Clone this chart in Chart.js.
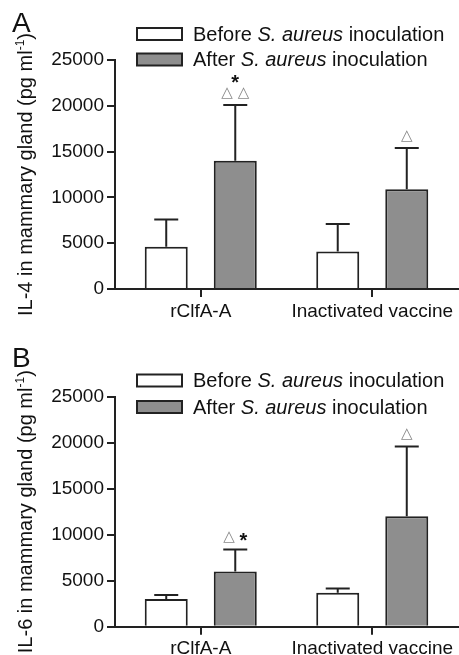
<!DOCTYPE html>
<html lang="en">
<head>
<meta charset="UTF-8">
<title>IL-4 / IL-6 in mammary gland</title>
<script src="https://cdn.jsdelivr.net/npm/chart.js"></script>
<style>
    body { margin: 0; background: #fff; }
    .panel { position: absolute; left: 0; width: 459px; overflow: hidden; }
    #wrapA { top: 0; height: 330px; }
    #wrapB { top: 330px; height: 325px; }
</style>
</head>
<body>
<div class="panel" id="wrapA"><canvas id="chartA" width="459" height="330"></canvas></div>
<div class="panel" id="wrapB"><canvas id="chartB" width="459" height="340"></canvas></div>

<script>
// categories and series
const categories = ['rClfA-A', 'Inactivated vaccine'];
const seriesNames = ['Before', 'After'];
const yTicks = [0, 5000, 10000, 15000, 20000, 25000];

// IL-4 (panel A)
const il4Before = [4600, 4100];
const il4BeforeErr = [7600, 7100];
const il4After = [14000, 10900];
const il4AfterErr = [20100, 15400];
const il4Marks = [['*', '\u25B3 \u25B3'], ['\u25B3']];

// IL-6 (panel B)
const il6Before = [3000, 3700];
const il6BeforeErr = [3450, 4150];
const il6After = [6000, 12000];
const il6AfterErr = [8400, 19600];
const il6Marks = [['\u25B3 *'], ['\u25B3']];

const ink = '#222';
const FONT = '"Liberation Sans", Arial, sans-serif';

function drawMixed(ctx, parts, x, y, size) {
    parts.forEach(p => {
        ctx.font = (p.it ? 'italic ' : '') + size + 'px ' + FONT;
        ctx.fillText(p.t, x, y);
        x += ctx.measureText(p.t).width;
    });
}

const extras = {
    id: 'extras',
    afterDatasetsDraw(chart, args, o) {
        const ctx = chart.ctx;
        const y = chart.scales.y;
        ctx.save();
        ctx.strokeStyle = ink;
        ctx.lineWidth = 2;
        // error bars (upper only)
        chart.data.datasets.forEach((ds, di) => {
            chart.getDatasetMeta(di).data.forEach((bar, i) => {
                const top = y.getPixelForValue(ds.err[i]);
                ctx.beginPath();
                ctx.moveTo(bar.x, bar.y);
                ctx.lineTo(bar.x, top);
                ctx.moveTo(bar.x - 12, top);
                ctx.lineTo(bar.x + 12, top);
                ctx.stroke();
            });
        });
        // significance marks above the "after" bars
        const after = chart.data.datasets[1];
        chart.getDatasetMeta(1).data.forEach((bar, i) => {
            const lines = o.marks[i];
            let cy = y.getPixelForValue(after.err[i]) - 12;
            for (let l = lines.length - 1; l >= 0; l--) {
                const chars = lines[l].split('');
                const fontOf = c => c === '*' ? 'bold 20px ' + FONT : '15px "DejaVu Sans", sans-serif';
                let w = 0;
                chars.forEach(c => { ctx.font = fontOf(c); w += ctx.measureText(c).width; });
                let cx = bar.x - w / 2;
                ctx.textBaseline = 'middle';
                ctx.textAlign = 'left';
                chars.forEach(c => {
                    ctx.font = fontOf(c);
                    ctx.fillStyle = c === '*' ? '#111' : '#888';
                    ctx.fillText(c, cx, c === '*' ? cy + 4 : cy);
                    cx += ctx.measureText(c).width;
                });
                cy -= 13;
            }
        });
        ctx.restore();
    },
    afterDraw(chart, args, o) {
        const ctx = chart.ctx;
        const area = chart.chartArea;
        ctx.save();
        ctx.fillStyle = '#111';
        ctx.textBaseline = 'alphabetic';
        // panel letter
        ctx.font = '28px ' + FONT;
        ctx.fillText(o.letter, 12, o.letterY);
        // y axis title with superscript
        ctx.translate(32, (area.top + area.bottom) / 2);
        ctx.rotate(-Math.PI / 2);
        const f = '20px ' + FONT;
        const fs = '12px ' + FONT;
        const t1 = o.yTitle + ' (pg ml', t2 = '-1', t3 = ')';
        ctx.font = f; const w1 = ctx.measureText(t1).width, w3 = ctx.measureText(t3).width;
        ctx.font = fs; const w2 = ctx.measureText(t2).width;
        let x = -(w1 + w2 + w3) / 2;
        ctx.font = f; ctx.fillText(t1, x, 0); x += w1;
        ctx.font = fs; ctx.fillText(t2, x, -8); x += w2;
        ctx.font = f; ctx.fillText(t3, x, 0);
        ctx.restore();

        // legend
        ctx.save();
        ctx.lineWidth = 2;
        ctx.strokeStyle = ink;
        chart.data.datasets.forEach((ds, i) => {
            const cy = o.legendY[i];
            ctx.fillStyle = ds.backgroundColor;
            ctx.fillRect(137, cy - 6, 45, 12);
            ctx.strokeRect(137, cy - 6, 45, 12);
            ctx.fillStyle = '#111';
            ctx.textBaseline = 'middle';
            drawMixed(ctx, [{t: seriesNames[i] + ' '}, {t: 'S. aureus', it: true}, {t: ' inoculation'}], 193, cy + 1, 20);
        });
        ctx.restore();
    }
};

function makeChart(id, before, beforeErr, after, afterErr, opts) {
    new Chart(document.getElementById(id), {
        type: 'bar',
        data: {
            labels: categories,
            datasets: [
                { label: seriesNames[0], data: before, err: beforeErr, backgroundColor: '#ffffff' },
                { label: seriesNames[1], data: after, err: afterErr, backgroundColor: '#8e8e8e' }
            ]
        },
        options: {
            responsive: false,
            animation: false,
            layout: { padding: { top: opts.top, right: 1, left: 0, bottom: 0 } },
            datasets: {
                bar: {
                    borderColor: ink, borderWidth: 2, borderSkipped: 'start',
                    categoryPercentage: 0.805, barPercentage: 0.623
                }
            },
            plugins: {
                legend: { display: false },
                tooltip: { enabled: false },
                extras: opts
            },
            scales: {
                x: {
                    afterFit: s => { s.height = opts.xHeight; },
                    grid: { display: true, drawOnChartArea: false, offset: false, tickLength: 8, color: ink, lineWidth: 2 },
                    border: { display: true, color: ink, width: 2 },
                    ticks: { color: '#111', padding: 3, font: { family: FONT, size: 19 } }
                },
                y: {
                    min: 0, max: 25000,
                    afterFit: s => { s.width = 115; },
                    afterBuildTicks: s => { s.ticks = yTicks.map(v => ({ value: v })); },
                    grid: { display: true, drawOnChartArea: false, tickLength: 8, color: ink, lineWidth: 2 },
                    border: { display: true, color: ink, width: 2 },
                    ticks: { color: '#111', padding: 3, font: { family: FONT, size: 19 }, callback: v => String(v) }
                }
            }
        },
        plugins: [extras]
    });
}

makeChart('chartA', il4Before, il4BeforeErr, il4After, il4AfterErr,
    { top: 60, xHeight: 41, letter: 'A', letterY: 32, legendY: [34, 59.5], marks: il4Marks, yTitle: 'IL-4 in mammary gland' });
makeChart('chartB', il6Before, il6BeforeErr, il6After, il6AfterErr,
    { top: 66.7, xHeight: 43.3, letter: 'B', letterY: 37, legendY: [50.5, 77], marks: il6Marks, yTitle: 'IL-6 in mammary gland' });
</script>
</body>
</html>
